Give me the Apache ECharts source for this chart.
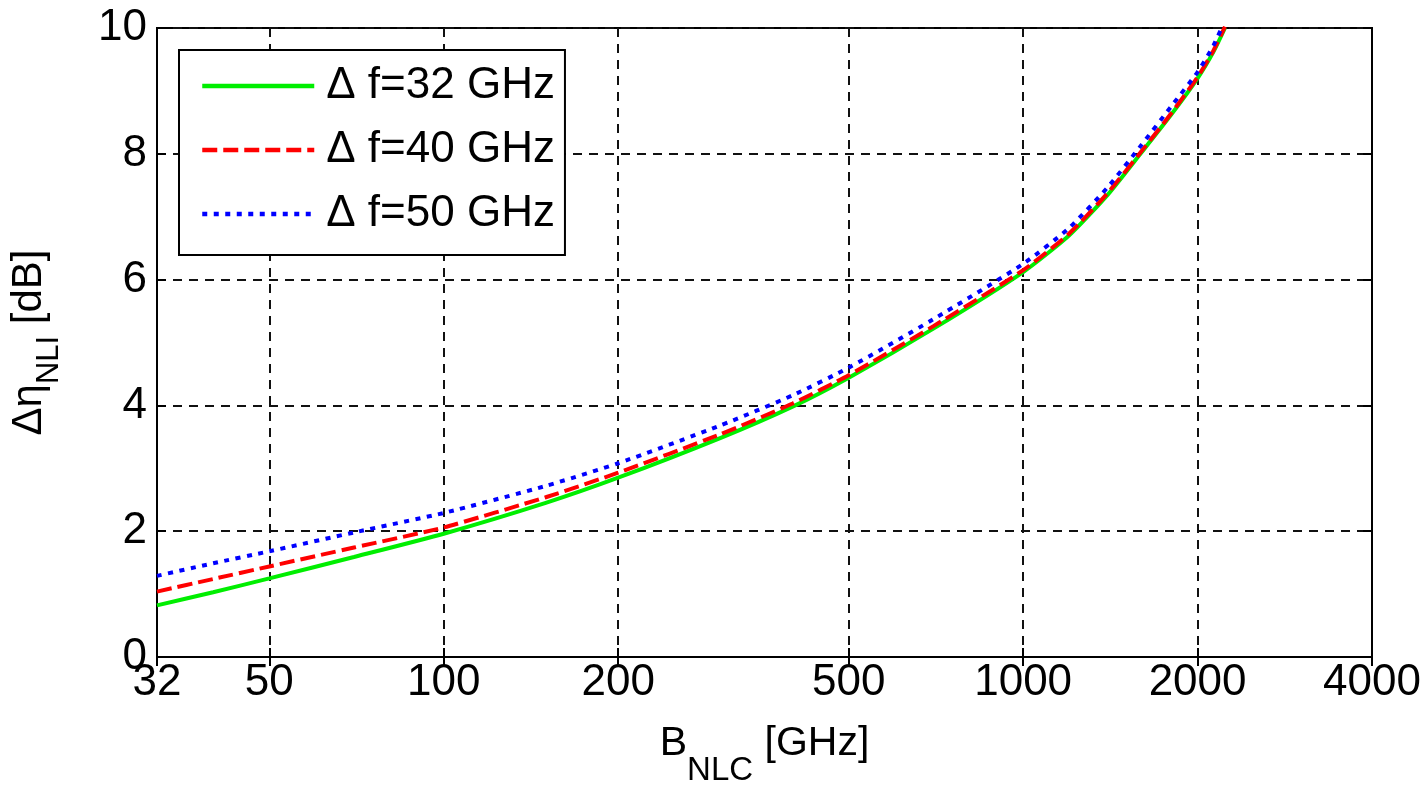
<!DOCTYPE html>
<html>
<head>
<meta charset="utf-8">
<script src="https://cdn.jsdelivr.net/npm/echarts@6/dist/echarts.min.js"></script>
<style>
html,body{margin:0;padding:0;background:#fff;}
#c{width:1422px;height:786px;}
</style>
</head>
<body>
<div id="c"></div>
<script>
// ---- data ----
const bandwidth = [32, 40, 50, 70, 100, 150, 200, 300, 400, 500, 700, 1000, 1200, 1400, 1600, 1800, 2000, 2130, 2230];
const eta32 = [0.82, 1.03, 1.25, 1.59, 1.96, 2.45, 2.85, 3.48, 3.98, 4.44, 5.22, 6.12, 6.70, 7.35, 8.02, 8.62, 9.20, 9.62, 10.0];
const eta40 = [1.04, 1.24, 1.44, 1.74, 2.06, 2.54, 2.93, 3.54, 4.03, 4.48, 5.26, 6.15, 6.73, 7.38, 8.04, 8.64, 9.22, 9.64, 10.02];
const eta50 = [1.29, 1.49, 1.68, 1.98, 2.29, 2.72, 3.08, 3.68, 4.16, 4.60, 5.37, 6.25, 6.82, 7.47, 8.14, 8.75, 9.30, 9.72, 10.12];
const seriesNames = ['\u0394 f=32 GHz', '\u0394 f=40 GHz', '\u0394 f=50 GHz'];
const xTicks = [32, 50, 100, 200, 500, 1000, 2000, 4000];
const yTicks = [0, 2, 4, 6, 8, 10];

const FONT = '"Liberation Sans", Arial, sans-serif';
const lg = v => Math.log10(v);
const xTickLog = xTicks.map(lg);
const toPairs = ys => bandwidth.map((b, i) => [lg(b), ys[i]]);
const fmtX = v => String(Math.round(Math.pow(10, v)));

const chart = echarts.init(document.getElementById('c'), null, {renderer: 'canvas'});

const gridLine = {show: true, lineStyle: {color: '#111', width: 2, type: [9, 7]}};
const xMin = lg(32), xMax = lg(4000);

const option = {
  animation: false,
  backgroundColor: '#fff',
  grid: {left: 157, top: 28, width: 1215, height: 629, outerBoundsMode: 'none', containLabel: false,
    show: true, borderColor: '#000', borderWidth: 2, backgroundColor: '#fff'},
  legend: {
    orient: 'vertical', left: 179, top: 50,
    data: seriesNames,
    backgroundColor: '#fff', borderColor: '#000', borderWidth: 2,
    padding: [14, 10, 19, 21],
    itemWidth: 112, itemHeight: 14, itemGap: 20,
    itemStyle: {opacity: 0},
    lineStyle: {width: 4.5},
    textStyle: {fontFamily: FONT, fontSize: 44, color: '#000', lineHeight: 44, padding: [0, 0, 0, 7]},
    selectedMode: false
  },
  xAxis: [{
    type: 'value', min: xMin, max: xMax,
    axisLine: {show: true, onZero: false, lineStyle: {color: '#000', width: 2}},
    axisTick: {show: true, inside: true, length: 9, customValues: xTickLog, lineStyle: {color: '#000', width: 2}},
    axisLabel: {customValues: xTickLog, formatter: fmtX, fontFamily: FONT, fontSize: 44, color: '#000', margin: 4},
    splitLine: gridLine,
    name: '{m|B}{s|NLC}{m| [GHz]}',
    nameLocation: 'middle', nameGap: 66,
    nameTextStyle: {
      padding: [0, 0, 0, 0],
      rich: {
        m: {fontFamily: FONT, fontSize: 41, color: '#000', verticalAlign: 'top', lineHeight: 44},
        s: {fontFamily: FONT, fontSize: 33, color: '#000', padding: [31, 0, 0, 0]}
      }
    }
  }, {
    type: 'value', min: xMin, max: xMax, position: 'top',
    axisLine: {show: true, lineStyle: {color: '#000', width: 2}},
    axisTick: {show: true, inside: true, length: 9, customValues: xTickLog, lineStyle: {color: '#000', width: 2}},
    axisLabel: {show: false, customValues: xTickLog},
    splitLine: {show: false}
  }],
  yAxis: [{
    type: 'value', min: 0, max: 10, interval: 2,
    axisLine: {show: true, lineStyle: {color: '#000', width: 2}},
    axisTick: {show: true, inside: true, length: 9, lineStyle: {color: '#000', width: 2}},
    axisLabel: {fontFamily: FONT, fontSize: 44, color: '#000', margin: 10,
      formatter: v => yTicks.indexOf(v) >= 0 ? String(v) : ''},
    splitLine: gridLine,
    name: '{m|\u0394\u03b7}{s|NLI}{m| [dB]}',
    nameLocation: 'middle', nameRotate: 90, nameGap: 92,
    nameTextStyle: {
      rich: {
        m: {fontFamily: FONT, fontSize: 42, color: '#000', verticalAlign: 'top', lineHeight: 46},
        s: {fontFamily: FONT, fontSize: 31, color: '#000', padding: [26, 0, 0, 0]}
      }
    }
  }, {
    type: 'value', min: 0, max: 10, interval: 2, position: 'right',
    axisLine: {show: true, lineStyle: {color: '#000', width: 2}},
    axisTick: {show: true, inside: true, length: 9, lineStyle: {color: '#000', width: 2}},
    axisLabel: {show: false},
    splitLine: {show: false}
  }],
  series: [
    {name: seriesNames[0], type: 'line', data: toPairs(eta32), showSymbol: false, symbol: 'none', smooth: 0.2, clip: true,
      lineStyle: {color: '#00ee00', width: 4, type: 'solid'}, itemStyle: {color: '#00ee00'}, z: 3},
    {name: seriesNames[1], type: 'line', data: toPairs(eta40), showSymbol: false, symbol: 'none', smooth: 0.2, clip: true,
      lineStyle: {color: '#ff0000', width: 4, type: [15, 6]}, itemStyle: {color: '#ff0000'}, z: 4},
    {name: seriesNames[2], type: 'line', data: toPairs(eta50), showSymbol: false, symbol: 'none', smooth: 0.2, clip: true,
      lineStyle: {color: '#0000ff', width: 4, type: [5, 6.5]}, itemStyle: {color: '#0000ff'}, z: 5}
  ]
};
chart.setOption(option);
</script>
</body>
</html>
